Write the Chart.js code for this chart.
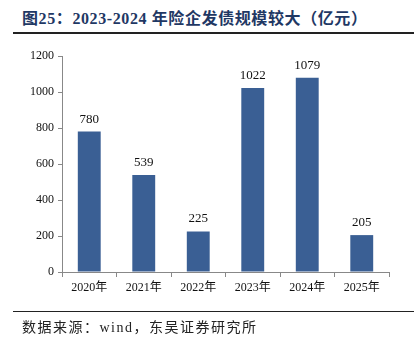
<!DOCTYPE html>
<html lang="zh">
<head>
  <meta charset="UTF-8">
  <title>险企发债规模</title>
  <script src="https://cdn.jsdelivr.net/npm/chart.js"></script>
  <style>
    body { margin: 0; background: #fff; width: 419px; height: 337px; position: relative; overflow: hidden; }
    #title { position: absolute; left: 22px; top: 5px; font: bold 16px "Liberation Serif", "Noto Sans CJK SC", serif; color: #1f3864; white-space: nowrap; letter-spacing: 0.6px; }
    #topLine { position: absolute; left: 13px; top: 32px; width: 401px; height: 2px; background: #222; }
    #bottomLine { position: absolute; left: 13px; top: 311px; width: 401px; height: 1px; background: #222; }
    #source { position: absolute; left: 22px; top: 316px; font: 14px "Liberation Serif", "Noto Sans CJK SC", serif; color: #222; white-space: nowrap; letter-spacing: 1.5px; }
    canvas { position: absolute; left: 0; top: 0; }
  </style>
</head>
<body>
  <div id="title">图25：2023-2024 年险企发债规模较大（亿元）</div>
  <div id="topLine"></div>
  <canvas id="chart" width="419" height="337"></canvas>
  <div id="bottomLine"></div>
  <div id="source">数据来源：wind，东吴证券研究所</div>

  <script>
    const years = ['2020年', '2021年', '2022年', '2023年', '2024年', '2025年'];
    const issuance = [780, 539, 225, 1022, 1079, 205];
    const yTicks = [0, 200, 400, 600, 800, 1000, 1200];

    const serif = '"Liberation Serif", "Times New Roman", "Noto Sans CJK SC", serif';

    // numbers above each bar
    const valueLabels = {
      id: 'valueLabels',
      afterDatasetsDraw(chart) {
        const ctx = chart.ctx;
        const meta = chart.getDatasetMeta(0);
        ctx.save();
        ctx.font = '13px ' + serif;
        ctx.fillStyle = '#111';
        ctx.textAlign = 'center';
        ctx.textBaseline = 'bottom';
        meta.data.forEach((bar, i) => {
          ctx.fillText(String(issuance[i]), bar.x, bar.y - 6);
        });
        ctx.restore();
      }
    };

    new Chart(document.getElementById('chart').getContext('2d'), {
      type: 'bar',
      data: {
        labels: years,
        datasets: [{
          data: issuance,
          backgroundColor: '#3a5f94',
          categoryPercentage: 1,
          barPercentage: 0.42
        }]
      },
      options: {
        responsive: false,
        animation: false,
        layout: { padding: { top: 56, right: 30, bottom: 0, left: 0 } },
        plugins: { legend: { display: false }, tooltip: { enabled: false } },
        scales: {
          x: {
            grid: { display: true, drawOnChartArea: false, offset: true, tickLength: 5, color: '#888' },
            border: { color: '#888', width: 1 },
            ticks: { color: '#111', font: { family: serif, size: 12 }, padding: 4 },
            afterFit(s) { s.height = 65; }
          },
          y: {
            min: 0,
            max: 1200,
            afterBuildTicks(s) { s.ticks = yTicks.map(v => ({ value: v })); },
            grid: { display: true, drawOnChartArea: false, tickLength: 4, color: '#888' },
            border: { color: '#888', width: 1 },
            ticks: { color: '#111', font: { family: serif, size: 12 }, padding: 4, callback: v => String(v) },
            afterFit(s) { s.width = 62; }
          }
        }
      },
      plugins: [valueLabels]
    });
  </script>
</body>
</html>
